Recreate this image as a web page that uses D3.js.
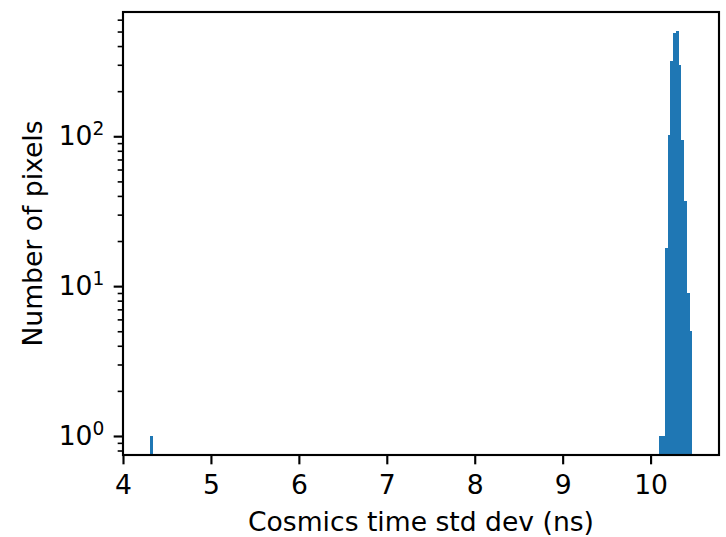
<!DOCTYPE html>
<html>
<head>
<meta charset="utf-8">
<script src="https://cdn.jsdelivr.net/npm/d3@7"></script>
<style>
  body { margin: 0; background: #ffffff; }
  text { font-family: "DejaVu Sans", sans-serif; fill: #000000; }
</style>
</head>
<body>
<div id="chart"></div>
<script>
// histogram bins (left edge in ns) and pixel counts
const binWidth = 0.0308;
const binLeft = [4.308, 10.100, 10.131, 10.162, 10.193, 10.224, 10.254, 10.285, 10.316, 10.347, 10.378, 10.408, 10.439];
const binCount = [1, 1, 1, 18, 102, 318, 491, 504, 299, 94, 37, 9, 5];

const xTicks = [4, 5, 6, 7, 8, 9, 10];
const yMajorTicks = [1, 10, 100];
const yMajorLabels = ["0", "1", "2"];
const yMinorTicks = [0.8, 0.9, 2, 3, 4, 5, 6, 7, 8, 9, 20, 30, 40, 50, 60, 70, 80, 90, 200, 300, 400, 500, 600];

const xLabel = "Cosmics time std dev (ns)";
const yLabel = "Number of pixels";

const W = 726, H = 537;
const margin = {top: 12, left: 123, right: 7, bottom: 82};
const width = W - margin.left - margin.right,
      height = H - margin.top - margin.bottom;
const fontSize = 26.6;
const lw = 2.13;

const svg = d3.select("#chart")
  .append("svg")
  .attr("width", W)
  .attr("height", H);

const g = svg.append("g")
  .attr("transform", `translate(${margin.left}, ${margin.top})`);

const x = d3.scaleLinear()
  .domain([4.0, 10.778])
  .range([0, width]);

const y = d3.scaleLog()
  .domain([0.7467, 675])
  .range([height, 0]);

// bars, crisp so neighbours join without seams
g.append("g")
  .attr("shape-rendering", "crispEdges")
  .selectAll("rect")
  .data(binLeft.map((d, i) => ({x0: d, x1: d + binWidth, n: binCount[i]})))
  .enter()
  .append("rect")
    .attr("x", d => x(d.x0))
    .attr("width", d => x(d.x1) - x(d.x0) + 0.4)
    .attr("y", d => y(d.n))
    .attr("height", d => height - y(d.n))
    .style("fill", "#1f77b4");

// x axis
const xAxis = g.append("g")
  .attr("transform", `translate(0, ${height})`)
  .call(d3.axisBottom(x).tickValues(xTicks).tickSize(9.33).tickPadding(10.7).tickFormat(d3.format("d")));
xAxis.select(".domain").remove();
xAxis.selectAll(".tick line").attr("stroke", "#000").attr("stroke-width", lw);
xAxis.selectAll(".tick text")
  .style("font-size", fontSize + "px")
  .style("font-family", "DejaVu Sans");

// y axis minor ticks
const yMinor = g.append("g")
  .call(d3.axisLeft(y).tickValues(yMinorTicks).tickSize(5.33).tickFormat(""));
yMinor.select(".domain").remove();
yMinor.selectAll(".tick line").attr("stroke", "#000").attr("stroke-width", 1.6);

// y axis major ticks
const yMajor = g.append("g")
  .call(d3.axisLeft(y).tickValues(yMajorTicks).tickSize(9.33).tickFormat(""));
yMajor.select(".domain").remove();
yMajor.selectAll(".tick line").attr("stroke", "#000").attr("stroke-width", lw);

// y tick labels as 10^n
yMajorTicks.forEach((v, i) => {
  const t = g.append("text")
    .attr("x", -18.7)
    .attr("y", y(v) + 8.7)
    .attr("text-anchor", "end")
    .style("font-size", fontSize + "px");
  t.append("tspan").text("10");
  t.append("tspan")
    .attr("dy", -9.6)
    .style("font-size", (fontSize * 0.7) + "px")
    .text(yMajorLabels[i]);
});

// frame
g.append("rect")
  .attr("x", 0)
  .attr("y", 0)
  .attr("width", width)
  .attr("height", height)
  .style("fill", "none")
  .style("stroke", "#000")
  .style("stroke-width", lw);

// axis labels
g.append("text")
  .attr("text-anchor", "middle")
  .attr("x", width / 2)
  .attr("y", height + 76)
  .style("font-size", fontSize + "px")
  .text(xLabel);

g.append("text")
  .attr("text-anchor", "middle")
  .attr("transform", "rotate(-90)")
  .attr("x", -height / 2)
  .attr("y", -margin.left + 41.6)
  .style("font-size", fontSize + "px")
  .text(yLabel);
</script>
</body>
</html>
